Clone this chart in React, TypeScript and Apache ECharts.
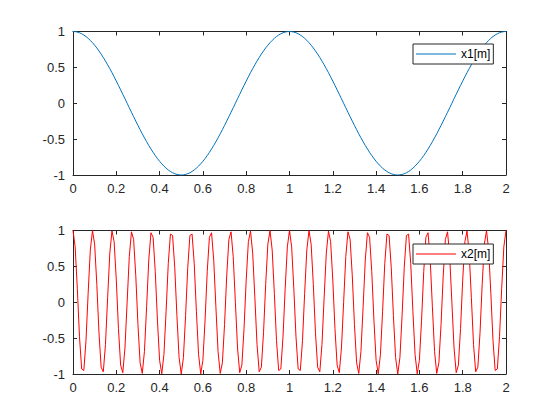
import React, { useEffect, useRef } from "react";
import * as echarts from "echarts";

// Sampling step of the recorded signals (s)
const SAMPLE_STEP = 0.01;

// Series 1: x1[m], 201 samples over t = 0..2 s
const x1Values: number[] = [
  1, 0.998, 0.992, 0.982, 0.969, 0.951, 0.930, 0.905, 0.876, 0.844,
  0.809, 0.771, 0.729, 0.685, 0.637, 0.588, 0.536, 0.482, 0.426, 0.368,
  0.309, 0.249, 0.187, 0.125, 0.063, 0, -0.063, -0.125, -0.187, -0.249,
  -0.309, -0.368, -0.426, -0.482, -0.536, -0.588, -0.637, -0.685, -0.729, -0.771,
  -0.809, -0.844, -0.876, -0.905, -0.930, -0.951, -0.969, -0.982, -0.992, -0.998,
  -1, -0.998, -0.992, -0.982, -0.969, -0.951, -0.930, -0.905, -0.876, -0.844,
  -0.809, -0.771, -0.729, -0.685, -0.637, -0.588, -0.536, -0.482, -0.426, -0.368,
  -0.309, -0.249, -0.187, -0.125, -0.063, 0, 0.063, 0.125, 0.187, 0.249,
  0.309, 0.368, 0.426, 0.482, 0.536, 0.588, 0.637, 0.685, 0.729, 0.771,
  0.809, 0.844, 0.876, 0.905, 0.930, 0.951, 0.969, 0.982, 0.992, 0.998,
  1, 0.998, 0.992, 0.982, 0.969, 0.951, 0.930, 0.905, 0.876, 0.844,
  0.809, 0.771, 0.729, 0.685, 0.637, 0.588, 0.536, 0.482, 0.426, 0.368,
  0.309, 0.249, 0.187, 0.125, 0.063, 0, -0.063, -0.125, -0.187, -0.249,
  -0.309, -0.368, -0.426, -0.482, -0.536, -0.588, -0.637, -0.685, -0.729, -0.771,
  -0.809, -0.844, -0.876, -0.905, -0.930, -0.951, -0.969, -0.982, -0.992, -0.998,
  -1, -0.998, -0.992, -0.982, -0.969, -0.951, -0.930, -0.905, -0.876, -0.844,
  -0.809, -0.771, -0.729, -0.685, -0.637, -0.588, -0.536, -0.482, -0.426, -0.368,
  -0.309, -0.249, -0.187, -0.125, -0.063, 0, 0.063, 0.125, 0.187, 0.249,
  0.309, 0.368, 0.426, 0.482, 0.536, 0.588, 0.637, 0.685, 0.729, 0.771,
  0.809, 0.844, 0.876, 0.905, 0.930, 0.951, 0.969, 0.982, 0.992, 0.998,
  1,
];

// Series 2: x2[m], 201 samples over t = 0..2 s
const x2Values: number[] = [
  1, 0.771, 0.187, -0.482, -0.930, -0.951, -0.536, 0.125, 0.729, 0.998,
  0.809, 0.249, -0.426, -0.905, -0.969, -0.588, 0.063, 0.685, 0.992,
  0.844, 0.309, -0.368, -0.876, -0.982, -0.637, 0, 0.637, 0.982,
  0.876, 0.368, -0.309, -0.844, -0.992, -0.685, -0.063, 0.588, 0.969,
  0.905, 0.426, -0.249, -0.809, -0.998, -0.729, -0.125, 0.536, 0.951,
  0.930, 0.482, -0.187, -0.771, -1, -0.771, -0.187, 0.482, 0.930,
  0.951, 0.536, -0.125, -0.729, -0.998, -0.809, -0.249, 0.426, 0.905,
  0.969, 0.588, -0.063, -0.685, -0.992, -0.844, -0.309, 0.368, 0.876,
  0.982, 0.637, 0, -0.637, -0.982, -0.876, -0.368, 0.309, 0.844,
  0.992, 0.685, 0.063, -0.588, -0.969, -0.905, -0.426, 0.249, 0.809,
  0.998, 0.729, 0.125, -0.536, -0.951, -0.930, -0.482, 0.187, 0.771,
  1, 0.771, 0.187, -0.482, -0.930, -0.951, -0.536, 0.125, 0.729, 0.998,
  0.809, 0.249, -0.426, -0.905, -0.969, -0.588, 0.063, 0.685, 0.992,
  0.844, 0.309, -0.368, -0.876, -0.982, -0.637, 0, 0.637, 0.982,
  0.876, 0.368, -0.309, -0.844, -0.992, -0.685, -0.063, 0.588, 0.969,
  0.905, 0.426, -0.249, -0.809, -0.998, -0.729, -0.125, 0.536, 0.951,
  0.930, 0.482, -0.187, -0.771, -1, -0.771, -0.187, 0.482, 0.930,
  0.951, 0.536, -0.125, -0.729, -0.998, -0.809, -0.249, 0.426, 0.905,
  0.969, 0.588, -0.063, -0.685, -0.992, -0.844, -0.309, 0.368, 0.876,
  0.982, 0.637, 0, -0.637, -0.982, -0.876, -0.368, 0.309, 0.844,
  0.992, 0.685, 0.063, -0.588, -0.969, -0.905, -0.426, 0.249, 0.809,
  0.998, 0.729, 0.125, -0.536, -0.951, -0.930, -0.482, 0.187, 0.771,
  1,
];

const seriesNames = ["x1[m]", "x2[m]"];
const seriesColors = ["#0072BD", "#FF0000"];

// Axis ranges / tick steps
const xRange = [0, 2];
const xTickStep = 0.2;
const yRange = [-1, 1];
const yTickStep = 0.5;

const AXIS_COLOR = "#262626";
const FONT = "'Liberation Sans', Arial, Helvetica, sans-serif";

function toPairs(values: number[]): [number, number][] {
  return values.map((v, i) => [+(i * SAMPLE_STEP).toFixed(2), v]);
}

export default function App() {
  const ref = useRef<HTMLDivElement>(null);

  useEffect(() => {
    if (!ref.current) return;
    const chart = echarts.init(ref.current, undefined, { renderer: "svg" });

    const grids = [
      { left: 73, top: 31.5, width: 433, height: 143.5 },
      { left: 73, top: 230.5, width: 433, height: 143.5 },
    ];

    const axisLine = { show: true, onZero: false, lineStyle: { color: AXIS_COLOR, width: 1 } };
    const axisTick = { show: true, inside: true, length: 4, lineStyle: { color: AXIS_COLOR, width: 1 } };

    const xAxes: any[] = [];
    const yAxes: any[] = [];
    grids.forEach((_, gi) => {
      ["bottom", "top"].forEach((pos) => {
        xAxes.push({
          type: "value",
          gridIndex: gi,
          position: pos,
          min: xRange[0],
          max: xRange[1],
          interval: xTickStep,
          axisLine,
          axisTick,
          splitLine: { show: false },
          axisLabel: {
            show: pos === "bottom",
            color: AXIS_COLOR,
            fontSize: 13,
            fontFamily: FONT,
            margin: 7,
          },
        });
      });
      ["left", "right"].forEach((pos) => {
        yAxes.push({
          type: "value",
          gridIndex: gi,
          position: pos,
          min: yRange[0],
          max: yRange[1],
          interval: yTickStep,
          axisLine,
          axisTick,
          splitLine: { show: false },
          axisLabel: {
            show: pos === "left",
            color: AXIS_COLOR,
            fontSize: 13,
            fontFamily: FONT,
            margin: 8,
          },
        });
      });
    });

    const legendTops = [44, 244];

    chart.setOption({
      animation: false,
      backgroundColor: "#ffffff",
      grid: grids,
      xAxis: xAxes,
      yAxis: yAxes,
      legend: seriesNames.map((name, i) => ({
        data: [name],
        left: 413,
        top: legendTops[i],
        orient: "horizontal",
        icon: "rect",
        itemWidth: 40,
        itemHeight: 1,
        padding: [4, 3, 4, 3],
        borderColor: AXIS_COLOR,
        borderWidth: 1,
        borderRadius: 0,
        backgroundColor: "#ffffff",
        selectedMode: false,
        textStyle: { color: "#000000", fontSize: 12, fontFamily: FONT },
      })),
      series: [
        {
          name: seriesNames[0],
          type: "line",
          xAxisIndex: 0,
          yAxisIndex: 0,
          data: toPairs(x1Values),
          showSymbol: false,
          symbol: "none",
          color: seriesColors[0],
          lineStyle: { color: seriesColors[0], width: 1 },
        },
        {
          name: seriesNames[1],
          type: "line",
          xAxisIndex: 2,
          yAxisIndex: 2,
          data: toPairs(x2Values),
          showSymbol: false,
          symbol: "none",
          color: seriesColors[1],
          lineStyle: { color: seriesColors[1], width: 1 },
        },
      ],
    });

    return () => chart.dispose();
  }, []);

  return (
    <div
      ref={ref}
      style={{ position: "absolute", left: 0, top: 0, width: 560, height: 420, background: "#fff" }}
    />
  );
}
